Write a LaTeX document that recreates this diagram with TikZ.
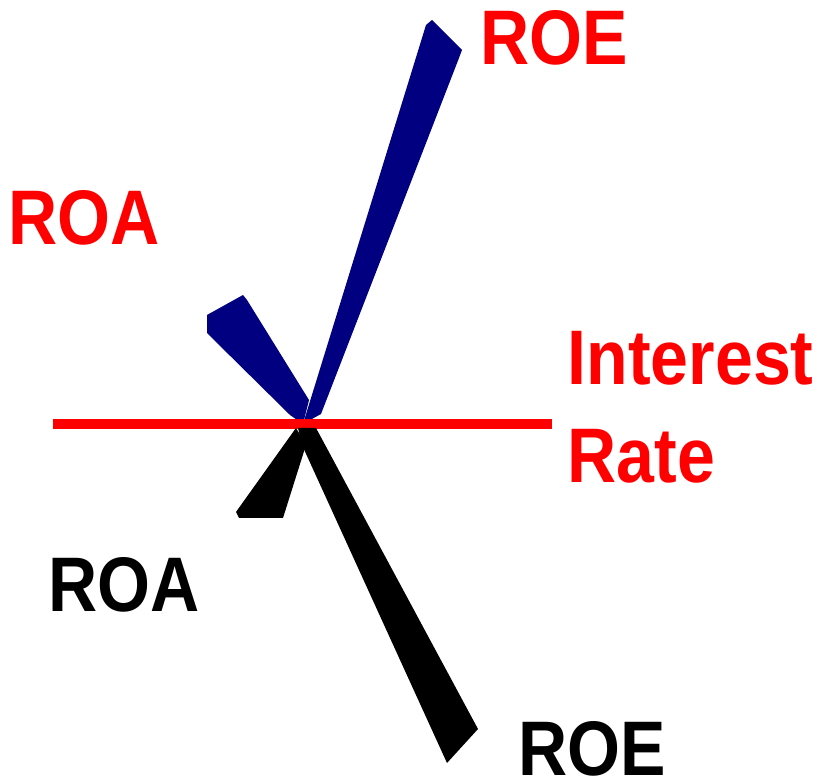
\documentclass[tikz,border=0pt]{standalone}
\usepackage{fontspec}
\setmainfont[FakeStretch=0.88]{Liberation Sans}
\definecolor{roeblue}{RGB}{0,0,128}
\definecolor{ratered}{RGB}{255,0,0}

\begin{document}
\begin{tikzpicture}[x=0.01cm,y=-0.01cm,
  lbl/.style={anchor=base west,inner sep=0pt,font=\fontsize{22}{28}\selectfont\bfseries},
  wedge/.style={line join=round}]
  \useasboundingbox (0,0) rectangle (839,783);
  \coordinate (pivot) at (303,424);

  % upper (blue) wedges
  \fill[roeblue,wedge] (pivot) -- (426,25) -- (432,20) -- (462,50) -- (459,58) -- (321,414) -- cycle;
  \fill[roeblue,wedge] (pivot) -- (290,415) -- (212,338) -- (207,333) -- (207,315) -- (243,295) -- (247,300) -- (309,400) -- cycle;

  % interest rate axis
  \coordinate (axisL) at (53,424);
  \coordinate (axisR) at (552,424);
  \draw[ratered,line width=2.85pt] (axisL) -- (axisR);

  % lower (black) wedges
  \fill[black,wedge] (296,428) -- (236,512) -- (239,518) -- (283,518) -- (306,445) -- cycle;
  \fill[black,wedge] (298,428) -- (316,428) -- (478,729) -- (447,763) -- (302,445) -- cycle;

  \node[lbl,text=ratered] (roeup) at (480,65) {ROE};
  \node[lbl,text=ratered] (roaup) at (8,245) {ROA};
  \node[lbl,text=ratered,align=left] (rate) at (567,483) {Interest\\Rate};
  \node[lbl] (roadown) at (48,612) {ROA};
  \node[lbl] (roedown) at (518,776) {ROE};
\end{tikzpicture}
\end{document}
